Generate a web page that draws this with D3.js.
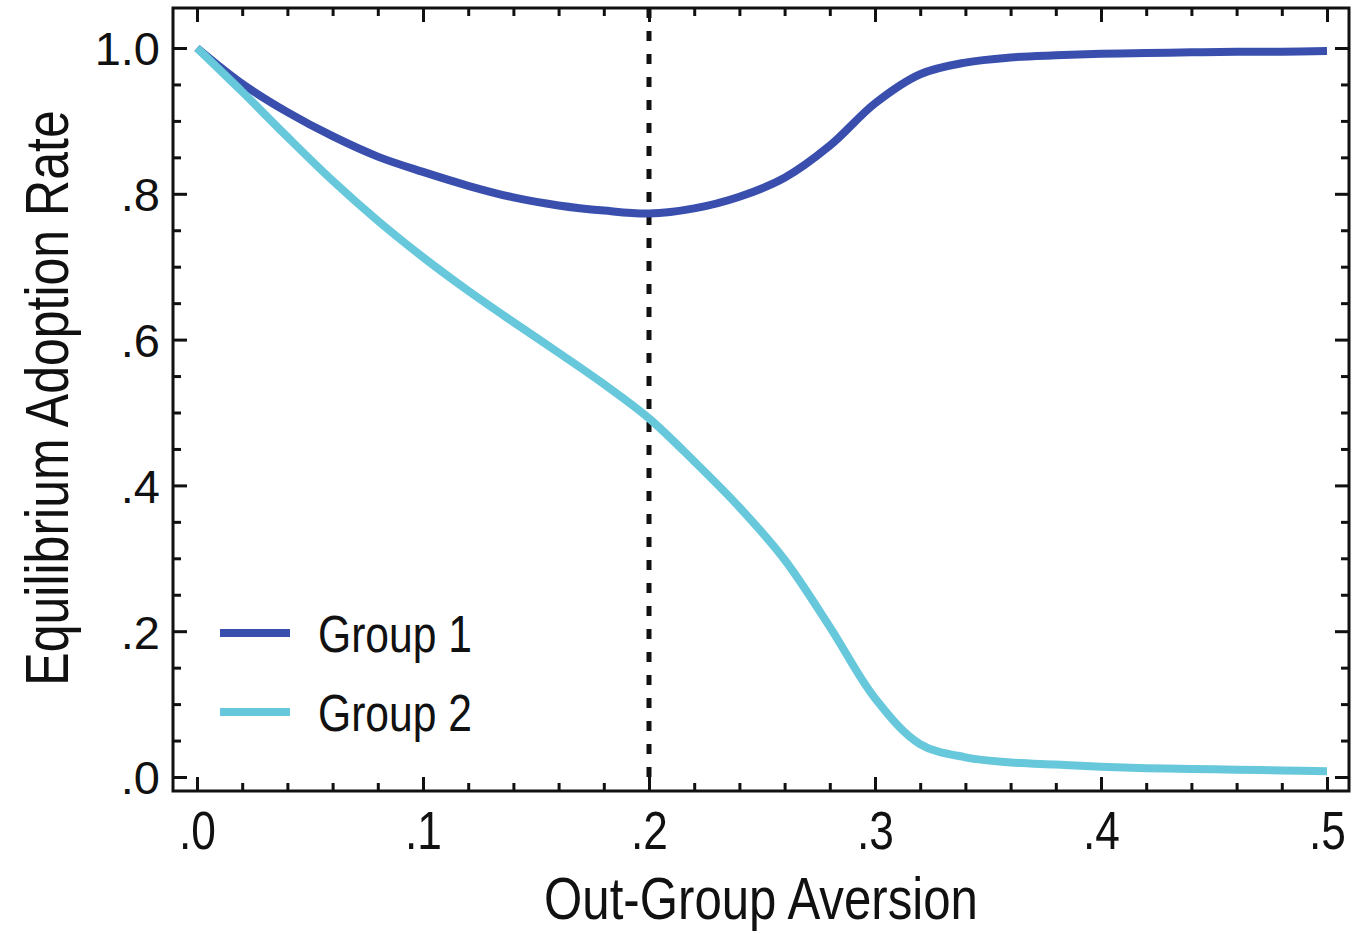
<!DOCTYPE html>
<html>
<head>
<meta charset="utf-8">
<script src="https://cdn.jsdelivr.net/npm/d3@7"></script>
<style>
  html, body { margin: 0; padding: 0; background: #ffffff; }
  svg { display: block; }
  text { font-family: "Liberation Sans", Arial, Helvetica, sans-serif; }
</style>
</head>
<body>
<svg id="chart" width="1364" height="933"></svg>
<script>
// Out-group aversion values at which the equilibrium was computed
const aversion = [0, 0.02, 0.04, 0.06, 0.08, 0.10, 0.12, 0.14, 0.16, 0.18, 0.20,
                  0.22, 0.24, 0.26, 0.28, 0.30, 0.32, 0.34, 0.36, 0.38, 0.40,
                  0.42, 0.44, 0.46, 0.48, 0.50];

// Equilibrium adoption rate per group
const group1 = [1.000, 0.951, 0.912, 0.879, 0.851, 0.830, 0.811, 0.795, 0.784, 0.777, 0.773,
                0.780, 0.796, 0.822, 0.866, 0.924, 0.964, 0.980, 0.987, 0.990, 0.992,
                0.993, 0.994, 0.995, 0.995, 0.996];
const group2 = [1.000, 0.940, 0.878, 0.818, 0.763, 0.713, 0.667, 0.624, 0.582, 0.539, 0.492,
                0.433, 0.370, 0.298, 0.206, 0.108, 0.045, 0.027, 0.020, 0.017, 0.014,
                0.012, 0.011, 0.010, 0.009, 0.008];

const seriesNames = ["Group 1", "Group 2"];
const seriesColors = ["#3a4fad", "#66c8da"];

// Axis ticks
const xMajor = [0, 0.1, 0.2, 0.3, 0.4, 0.5];
const xTickLabels = [".0", ".1", ".2", ".3", ".4", ".5"];
const yMajor = [0, 0.2, 0.4, 0.6, 0.8, 1.0];
const yTickLabels = [".0", ".2", ".4", ".6", ".8", "1.0"];

// Reference line position
const markerAversion = 0.2;

const xTitle = "Out-Group Aversion";
const yTitle = "Equilibrium Adoption Rate";

// ---- layout ----
const frame = { left: 173, right: 1349, top: 8, bottom: 791 };
const condense = "scale(0.82,1)";   // narrow lettering

const svg = d3.select("#chart");

const x = d3.scaleLinear().domain([0, 0.5]).range([197, 1327]);
const y = d3.scaleLinear().domain([0, 1]).range([777, 48]);

const xMinor = d3.range(0, 0.5001, 0.02).map(v => +v.toFixed(2)).filter(v => !xMajor.some(m => Math.abs(m - v) < 1e-9));
const yMinor = d3.range(0, 1.0001, 0.05).map(v => +v.toFixed(2)).filter(v => !yMajor.some(m => Math.abs(m - v) < 1e-9));

const xLabel = v => xTickLabels[xMajor.findIndex(m => Math.abs(m - v) < 1e-9)];
const yLabel = v => yTickLabels[yMajor.findIndex(m => Math.abs(m - v) < 1e-9)];

function styleAxis(g) {
  g.select(".domain").remove();
  g.selectAll(".tick line").attr("stroke", "#111").attr("stroke-width", 3);
  g.selectAll(".tick text").attr("fill", "#111")
    .attr("font-family", "'Liberation Sans', Arial, Helvetica, sans-serif");
}

// bottom axis with labels
svg.append("g")
  .attr("transform", `translate(0,${frame.bottom})`)
  .call(d3.axisBottom(x).tickValues(xMajor).tickSize(-14).tickPadding(0).tickFormat(xLabel))
  .call(styleAxis)
  .call(g => g.selectAll(".tick text")
    .attr("font-size", 54).attr("y", null).attr("dy", null)
    .attr("transform", `translate(0,58) ${condense}`));
svg.append("g")
  .attr("transform", `translate(0,${frame.bottom})`)
  .call(d3.axisBottom(x).tickValues(xMinor).tickSize(-8).tickFormat(""))
  .call(styleAxis);

// top axis (ticks only)
svg.append("g")
  .attr("transform", `translate(0,${frame.top})`)
  .call(d3.axisTop(x).tickValues(xMajor).tickSize(-14).tickFormat(""))
  .call(styleAxis);
svg.append("g")
  .attr("transform", `translate(0,${frame.top})`)
  .call(d3.axisTop(x).tickValues(xMinor).tickSize(-8).tickFormat(""))
  .call(styleAxis);

// left axis with labels
svg.append("g")
  .attr("transform", `translate(${frame.left},0)`)
  .call(d3.axisLeft(y).tickValues(yMajor).tickSize(-14).tickPadding(13).tickFormat(yLabel))
  .call(styleAxis)
  .call(g => g.selectAll(".tick text").attr("font-size", 47).attr("dy", "0.36em"));
svg.append("g")
  .attr("transform", `translate(${frame.left},0)`)
  .call(d3.axisLeft(y).tickValues(yMinor).tickSize(-8).tickFormat(""))
  .call(styleAxis);

// right axis (ticks only)
svg.append("g")
  .attr("transform", `translate(${frame.right},0)`)
  .call(d3.axisRight(y).tickValues(yMajor).tickSize(-14).tickFormat(""))
  .call(styleAxis);
svg.append("g")
  .attr("transform", `translate(${frame.right},0)`)
  .call(d3.axisRight(y).tickValues(yMinor).tickSize(-8).tickFormat(""))
  .call(styleAxis);

// dashed reference line
svg.append("line")
  .attr("x1", x(markerAversion)).attr("x2", x(markerAversion))
  .attr("y1", frame.top).attr("y2", frame.bottom)
  .attr("stroke", "#111").attr("stroke-width", 5)
  .attr("stroke-dasharray", "10,13");

// series lines (evenly spaced samples, smooth interpolation)
const line = d3.line()
  .x((d, i) => x(aversion[i]))
  .y(d => y(d))
  .curve(d3.curveCatmullRom.alpha(0.5));

[group1, group2].forEach((vals, k) => {
  svg.append("path")
    .datum(vals)
    .attr("d", line)
    .attr("fill", "none")
    .attr("stroke", seriesColors[k])
    .attr("stroke-width", 8)
    .attr("stroke-linecap", "butt")
    .attr("stroke-linejoin", "round");
});

// plot frame
svg.append("rect")
  .attr("x", frame.left).attr("y", frame.top)
  .attr("width", frame.right - frame.left).attr("height", frame.bottom - frame.top)
  .attr("fill", "none").attr("stroke", "#111").attr("stroke-width", 3);

// legend
const legend = svg.append("g").attr("transform", "translate(220,633)");
seriesNames.forEach((name, k) => {
  const row = legend.append("g").attr("transform", `translate(0,${k * 79})`);
  row.append("line")
    .attr("x1", 0).attr("x2", 70).attr("y1", 0).attr("y2", 0)
    .attr("stroke", seriesColors[k]).attr("stroke-width", 8);
  row.append("text")
    .attr("transform", `translate(98,19) ${condense}`)
    .attr("font-size", 52).attr("fill", "#111")
    .text(name);
});

// axis titles
svg.append("text")
  .attr("transform", `translate(761,919) ${condense}`)
  .attr("text-anchor", "middle")
  .attr("font-size", 60).attr("fill", "#111")
  .text(xTitle);

svg.append("text")
  .attr("transform", `translate(68,398) rotate(-90) ${condense}`)
  .attr("text-anchor", "middle")
  .attr("font-size", 61).attr("fill", "#111")
  .text(yTitle);
</script>
</body>
</html>
